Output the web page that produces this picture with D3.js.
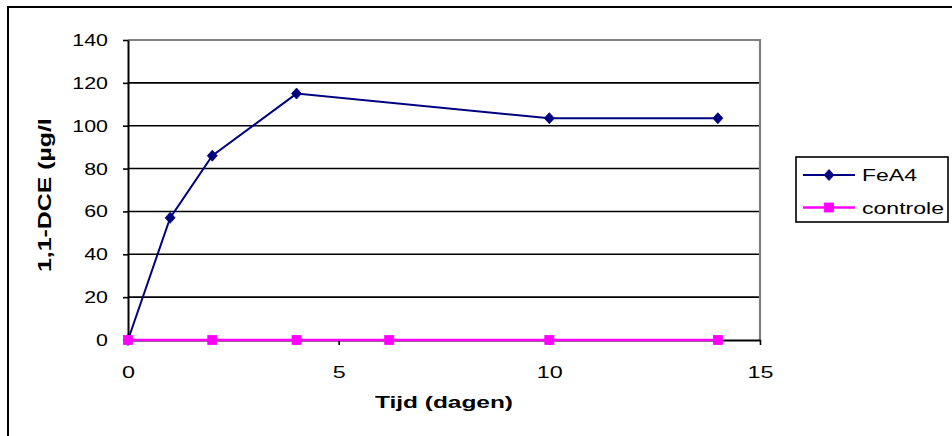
<!DOCTYPE html>
<html>
<head>
<meta charset="utf-8">
<script src="https://cdn.jsdelivr.net/npm/d3@7"></script>
<style>
  html, body { margin: 0; padding: 0; background: #fff; }
  svg { display: block; font-family: "Liberation Sans", Arial, sans-serif; }
</style>
</head>
<body>
<svg id="chart" width="952" height="436"></svg>
<script>
// Series data: time in days, 1,1-DCE concentration in µg/l
const fea4Days = [0, 1, 2, 4, 10, 14];
const fea4Values = [0, 57, 86, 115, 103.5, 103.5];
const controleDays = [0, 2, 4, 6.2, 10, 14];
const controleValues = [0, 0, 0, 0, 0, 0];

const xTicks = [0, 5, 10, 15];
const yTicks = [0, 20, 40, 60, 80, 100, 120, 140];

const seriesNames = ["FeA4", "controle"];
const seriesColors = ["#000080", "#FF00FF"];

const xTitle = "Tijd (dagen)";
const yTitle = "1,1-DCE (µg/l)";

const svg = d3.select("#chart");
const plot = { left: 128, top: 40, right: 760, bottom: 340 };

const x = d3.scaleLinear().domain([0, 15]).range([plot.left, plot.right]);
const y = d3.scaleLinear().domain([0, 140]).range([plot.bottom, plot.top]);

// outer chart frame (runs past the right and bottom edges)
svg.append("rect")
  .attr("x", 8).attr("y", 7).attr("width", 980).attr("height", 460)
  .attr("fill", "none").attr("stroke", "#000").attr("stroke-width", 2);

// horizontal gridlines
svg.append("g").selectAll("line")
  .data(yTicks.filter(d => d > 0 && d < 140))
  .join("line")
  .attr("x1", plot.left).attr("x2", plot.right)
  .attr("y1", d => y(d)).attr("y2", d => y(d))
  .attr("stroke", "#000").attr("stroke-width", 1.6);

// plot area top and right border (grey)
svg.append("path")
  .attr("d", `M${plot.left},${y(140)}H${plot.right}V${plot.bottom}`)
  .attr("fill", "none").attr("stroke", "#808080").attr("stroke-width", 2.2);

// y axis
const yAxis = svg.append("g")
  .attr("transform", `translate(${plot.left},0)`)
  .call(d3.axisLeft(y).tickValues(yTicks).tickSize(5).tickSizeOuter(0).tickPadding(15));
yAxis.select(".domain").attr("stroke", "#000").attr("stroke-width", 2);
yAxis.selectAll(".tick line").attr("stroke", "#000").attr("stroke-width", 1.6);
yAxis.selectAll(".tick text")
  .attr("font-size", 17).attr("fill", "#000")
  .attr("font-family", "Liberation Sans, Arial, sans-serif")
  .attr("textLength", d => String(d).length * 11.9)
  .attr("lengthAdjust", "spacingAndGlyphs");

// x axis
const xAxis = svg.append("g")
  .attr("transform", `translate(0,${plot.bottom})`)
  .call(d3.axisBottom(x).tickValues(xTicks).tickSize(5).tickSizeOuter(0).tickPadding(21));
xAxis.select(".domain").attr("stroke", "#000").attr("stroke-width", 2);
xAxis.selectAll(".tick line").attr("stroke", "#000").attr("stroke-width", 1.6);
xAxis.selectAll(".tick text")
  .attr("font-size", 17).attr("fill", "#000")
  .attr("font-family", "Liberation Sans, Arial, sans-serif")
  .attr("textLength", d => String(d).length * 13)
  .attr("lengthAdjust", "spacingAndGlyphs");

// axis titles
svg.append("text")
  .attr("x", (plot.left + plot.right) / 2).attr("y", 408)
  .attr("text-anchor", "middle")
  .attr("font-size", 17).attr("font-weight", "bold")
  .attr("textLength", 138).attr("lengthAdjust", "spacingAndGlyphs")
  .text(xTitle);

// y title is cut off at the top of its box
svg.append("clipPath").attr("id", "ytitle-clip")
  .append("rect").attr("x", 0).attr("y", 120).attr("width", 120).attr("height", 300);
svg.append("g")
  .attr("clip-path", "url(#ytitle-clip)")
  .append("text")
  .attr("transform", "translate(51,272) rotate(-90)")
  .attr("text-anchor", "start")
  .attr("font-size", 18).attr("font-weight", "bold")
  .attr("textLength", 162).attr("lengthAdjust", "spacingAndGlyphs")
  .text(yTitle);

// marker shapes: diamond for the first series, square for the second
function drawMarker(g, kind, cx, cy, color) {
  if (kind === 0) {
    g.append("path")
      .attr("d", `M${cx},${cy - 5.5}L${cx + 5},${cy}L${cx},${cy + 5.5}L${cx - 5},${cy}Z`)
      .attr("fill", color).attr("stroke", color).attr("stroke-width", 0.8);
  } else {
    g.append("rect")
      .attr("x", cx - 4.5).attr("y", cy - 4.5).attr("width", 9).attr("height", 9)
      .attr("fill", color).attr("stroke", color).attr("stroke-width", 0.8);
  }
}

const series = [
  { name: seriesNames[0], xs: fea4Days, ys: fea4Values, color: seriesColors[0], width: 2 },
  { name: seriesNames[1], xs: controleDays, ys: controleValues, color: seriesColors[1], width: 2.4 }
];

const line = d3.line().x(d => x(d[0])).y(d => y(d[1]));

series.forEach((s, i) => {
  const pts = s.xs.map((d, j) => [d, s.ys[j]]);
  const g = svg.append("g");
  g.append("path")
    .attr("d", line(pts))
    .attr("fill", "none").attr("stroke", s.color).attr("stroke-width", s.width);
  pts.forEach(p => drawMarker(g, i, x(p[0]), y(p[1]), s.color));
});

// legend
const legend = svg.append("g");
legend.append("rect")
  .attr("x", 796).attr("y", 157).attr("width", 152).attr("height", 65)
  .attr("fill", "#fff").attr("stroke", "#000").attr("stroke-width", 1.6);
const legendRows = [175, 207.5];
const legendTextLen = [55, 82];
series.forEach((s, i) => {
  const ly = legendRows[i];
  legend.append("line")
    .attr("x1", 803).attr("x2", 855).attr("y1", ly).attr("y2", ly)
    .attr("stroke", s.color).attr("stroke-width", s.width);
  drawMarker(legend, i, 829, ly, s.color);
  legend.append("text")
    .attr("x", 862).attr("y", ly + 6.3)
    .attr("font-size", 17).attr("fill", "#000")
    .attr("textLength", legendTextLen[i]).attr("lengthAdjust", "spacingAndGlyphs")
    .text(s.name);
});
</script>
</body>
</html>
